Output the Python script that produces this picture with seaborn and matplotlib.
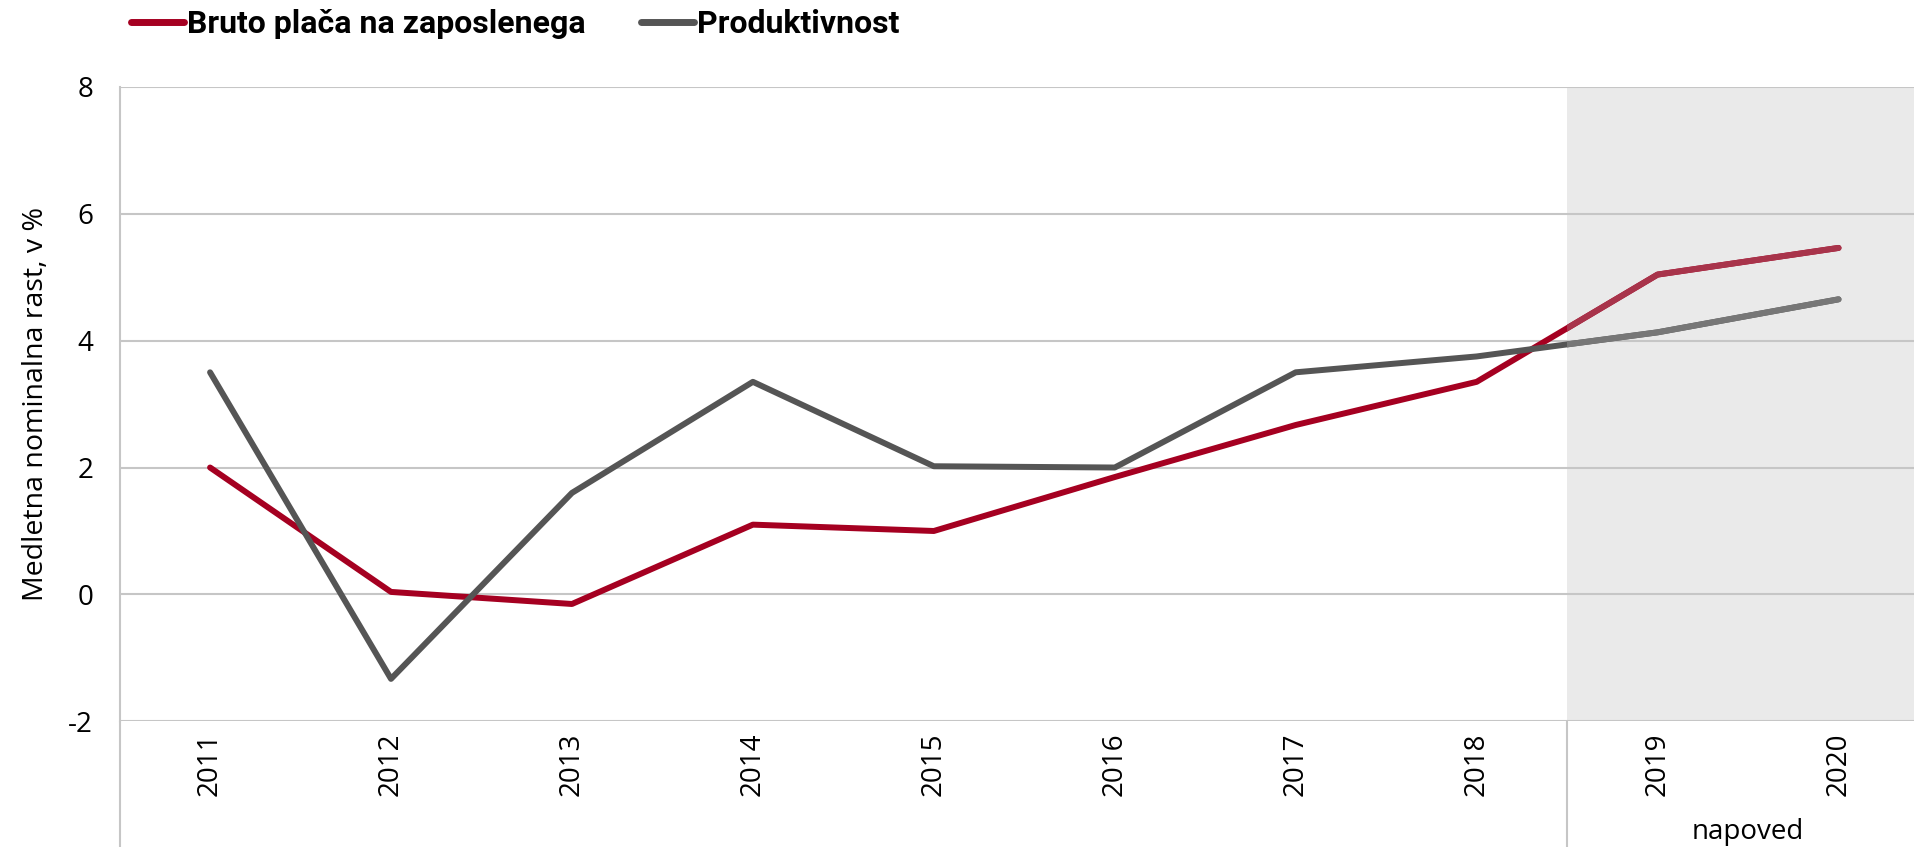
import matplotlib
matplotlib.use("Agg")
import matplotlib.pyplot as plt
import seaborn as sns
import pandas as pd
from matplotlib.lines import Line2D
import matplotlib.transforms as mtransforms

years = ["2011", "2012", "2013", "2014", "2015", "2016", "2017", "2018", "2019", "2020"]
wages = [2.0, 0.04, -0.15, 1.1, 1.0, 1.85, 2.67, 3.35, 5.04, 5.46]
productivity = [3.5, -1.33, 1.6, 3.35, 2.02, 2.0, 3.5, 3.75, 4.13, 4.65]
series_names = ["Bruto plača na zaposlenega", "Produktivnost"]
y_ticks = [-2, 0, 2, 4, 6, 8]
ylabel = "Medletna nominalna rast, v %"
forecast_label = "napoved"
forecast_start = 8  # index of first forecast year

dark_colors = ["#A50021", "#555555"]
light_colors = ["#A8344B", "#777777"]

sns.set_theme(style="white")
plt.rcParams["font.family"] = ["Open Sans", "DejaVu Sans"]
plt.rcParams["text.color"] = "#000000"

df = pd.DataFrame({
    "x": list(range(len(years))) * 2,
    "value": wages + productivity,
    "series": [series_names[0]] * len(years) + [series_names[1]] * len(years),
})

W, H = 1914, 847
fig = plt.figure(figsize=(W / 100, H / 100), dpi=100)
left_px, right_px, top_px, bot_px = 119.6, 1929.0, 86.7, 721.4
ax = fig.add_axes([left_px / W, 1 - bot_px / H, (right_px - left_px) / W, (bot_px - top_px) / H])

ax.set_xlim(-0.5, len(years) - 0.5)
ax.set_ylim(-2, 8)

# forecast shading
span = ax.axvspan(forecast_start - 0.5, len(years) - 0.5, color="#EAEAEA", zorder=0, lw=0)

# gridlines
for v in y_ticks:
    ax.axhline(v, color="#C6C6C6", lw=1.5, zorder=1)

palette_dark = dict(zip(series_names, dark_colors))
palette_light = dict(zip(series_names, light_colors))
sns.lineplot(data=df, x="x", y="value", hue="series", palette=palette_dark, lw=4.3,
             ax=ax, legend=False, zorder=3)
n_before = len(ax.lines)
sns.lineplot(data=df, x="x", y="value", hue="series", palette=palette_light, lw=4.3,
             ax=ax, legend=False, zorder=4)
for ln in ax.lines[n_before:]:
    ln.set_clip_path(span)
for ln in ax.lines:
    ln.set_solid_capstyle("round")
    ln.set_solid_joinstyle("round")

# ticks
ax.set_xticks(range(len(years)))
ax.set_xticklabels(years, rotation=90, fontsize=20, color="#000000")
ax.set_yticks(y_ticks)
ax.set_yticklabels([str(v) for v in y_ticks], fontsize=20, color="#000000")
ax.tick_params(axis="x", length=0, pad=8)
ax.tick_params(axis="y", length=0, pad=19)
for lbl in ax.get_xticklabels():
    lbl.set_va("top")
ax.set_xlabel("")
ax.set_ylabel(ylabel, fontsize=20.5, color="#000000", labelpad=13)

for s in ["top", "right", "bottom"]:
    ax.spines[s].set_visible(False)
ax.spines["left"].set_color("#C6C6C6")
ax.spines["left"].set_linewidth(1.5)

# extended left axis line and forecast separator below plot
ext = -(H - bot_px) / (bot_px - top_px)
ax.plot([0, 0], [0, ext], transform=ax.transAxes, color="#C6C6C6", lw=1.5, clip_on=False)
trans = mtransforms.blended_transform_factory(ax.transData, ax.transAxes)
ax.plot([forecast_start - 0.5] * 2, [0, ext], transform=trans, color="#C6C6C6", lw=1.5, clip_on=False)
ax.text((forecast_start + len(years) - 1) / 2, 1 - (832 - top_px) / (bot_px - top_px),
        forecast_label, transform=trans, ha="center", va="center", fontsize=20, color="#000000")

# legend
handles = [Line2D([0], [0], color=c, lw=5, solid_capstyle="round") for c in dark_colors]
leg = fig.legend(handles, series_names, loc="center left", bbox_to_anchor=(131 / W, 1 - 24 / H),
                 ncol=2, frameon=False, borderpad=0, borderaxespad=0, handlelength=1.65,
                 handletextpad=0.1, columnspacing=1.75,
                 prop={"family": ["Roboto", "DejaVu Sans"], "weight": "bold", "size": 23})
for t in leg.get_texts():
    t.set_color("#000000")

fig.savefig("out.png", dpi=100)
